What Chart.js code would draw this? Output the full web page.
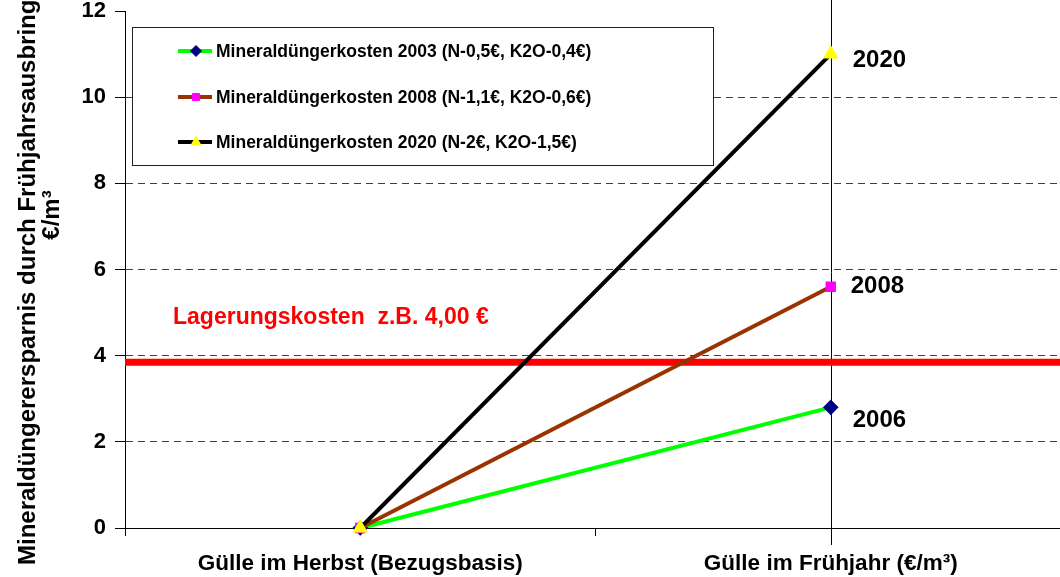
<!DOCTYPE html>
<html>
<head>
<meta charset="utf-8">
<script src="https://cdn.jsdelivr.net/npm/chart.js@4/dist/chart.umd.min.js"></script>
<style>
    html, body { margin: 0; padding: 0; background: #fff; overflow: hidden; }
</style>
</head>
<body>
<canvas id="myChart" width="1075" height="577"></canvas>
<script>
const categories = ['Gülle im Herbst (Bezugsbasis)', 'Gülle im Frühjahr (€/m³)'];
const seriesNames = [
    'Mineraldüngerkosten 2003 (N-0,5€, K2O-0,4€)',
    'Mineraldüngerkosten 2008 (N-1,1€, K2O-0,6€)',
    'Mineraldüngerkosten 2020 (N-2€, K2O-1,5€)'
];
const values2003 = [0, 2.8];
const values2008 = [0, 5.6];
const values2020 = [0, 11.0];
const endLabels = ['2006', '2008', '2020'];
const storageCost = 3.85;
const storageLabel = 'Lagerungskosten  z.B. 4,00 €';
const yTitle = ['Mineraldüngerersparnis durch Frühjahrsausbringung', '€/m³'];

const FONT = "'Liberation Sans', Arial, sans-serif";

// offsets of the end labels next to the last point of each series
const labelOffsets = [[22, 13], [20, 0], [22, 6]];

const decor = {
    id: 'decor',
    beforeDatasetsDraw(chart) {
        const {ctx, chartArea, scales} = chart;
        const x = Math.round(scales.x.getPixelForValue(1)) + 0.5;
        ctx.save();
        // vertical line at spring category
        ctx.strokeStyle = '#000';
        ctx.lineWidth = 1;
        ctx.beginPath();
        ctx.moveTo(x, 0);
        ctx.lineTo(x, chartArea.bottom + 17);
        ctx.stroke();
        // storage cost line
        const y = scales.y.getPixelForValue(storageCost);
        ctx.strokeStyle = '#ff0000';
        ctx.lineWidth = 7;
        ctx.beginPath();
        ctx.moveTo(chartArea.left, y);
        ctx.lineTo(chartArea.right, y);
        ctx.stroke();
        ctx.fillStyle = '#ff0000';
        ctx.font = 'bold 23px ' + FONT;
        ctx.textBaseline = 'middle';
        ctx.fillText(storageLabel, chartArea.left + 48, y - 44);
        ctx.restore();
    },
    afterDatasetsDraw(chart) {
        const {ctx} = chart;
        ctx.save();
        // end labels
        ctx.fillStyle = '#000';
        ctx.font = 'bold 24px ' + FONT;
        ctx.textBaseline = 'middle';
        chart.data.datasets.forEach((ds, i) => {
            const pt = chart.getDatasetMeta(i).data[1];
            ctx.fillText(endLabels[i], pt.x + labelOffsets[i][0], pt.y + labelOffsets[i][1]);
        });

        // legend box
        ctx.fillStyle = '#fff';
        ctx.fillRect(132, 27, 581, 138);
        ctx.strokeStyle = '#202020';
        ctx.lineWidth = 1;
        ctx.strokeRect(132.5, 27.5, 581, 138);
        const rows = [51, 97, 142];
        chart.data.datasets.forEach((ds, i) => {
            const y = rows[i];
            ctx.strokeStyle = ds.borderColor;
            ctx.lineWidth = 4;
            ctx.beginPath();
            ctx.moveTo(178, y);
            ctx.lineTo(212, y);
            ctx.stroke();
            ctx.fillStyle = ds.pointBackgroundColor;
            ctx.strokeStyle = ds.pointBorderColor;
            ctx.lineWidth = 1;
            Chart.helpers.drawPoint(ctx, {pointStyle: ds.pointStyle, radius: ds.pointRadius + 0.5, rotation: 0, borderWidth: 1}, 196, y);
            ctx.fillStyle = '#000';
            ctx.font = 'bold 17.5px ' + FONT;
            ctx.textBaseline = 'middle';
            ctx.fillText(ds.label, 216, y + 1);
        });

        // y axis title
        ctx.fillStyle = '#000';
        ctx.font = 'bold 24px ' + FONT;
        ctx.translate(28, 565);
        ctx.rotate(-Math.PI / 2);
        ctx.textAlign = 'left';
        ctx.textBaseline = 'middle';
        ctx.fillText(yTitle[0], 0, 0);
        ctx.textAlign = 'center';
        ctx.fillText(yTitle[1], 565 - 215, 24);
        ctx.restore();
    }
};

const ctx = document.getElementById('myChart');

new Chart(ctx, {
    type: 'line',
    data: {
        labels: categories,
        datasets: [
            {
                label: seriesNames[0],
                data: values2003,
                borderColor: '#00ff00',
                borderWidth: 4,
                pointStyle: 'rectRot',
                pointRadius: 5,
                pointBackgroundColor: '#000080',
                pointBorderColor: '#000080',
                order: 3,
                clip: false
            },
            {
                label: seriesNames[1],
                data: values2008,
                borderColor: '#993300',
                borderWidth: 4,
                pointStyle: 'rect',
                pointRadius: 4.5,
                pointBackgroundColor: '#ff00ff',
                pointBorderColor: '#ff00ff',
                order: 2,
                clip: false
            },
            {
                label: seriesNames[2],
                data: values2020,
                borderColor: '#000000',
                borderWidth: 4,
                pointStyle: 'triangle',
                pointRadius: 5,
                pointBackgroundColor: '#ffff00',
                pointBorderColor: '#ffff00',
                order: 1,
                clip: false
            }
        ]
    },
    options: {
        responsive: false,
        animation: false,
        layout: {
            padding: {top: 11, right: 0, left: 0, bottom: 0}
        },
        plugins: {
            legend: {display: false},
            tooltip: {enabled: false}
        },
        elements: {
            line: {tension: 0}
        },
        scales: {
            x: {
                type: 'category',
                offset: true,
                grid: {
                    offset: true,
                    drawOnChartArea: false,
                    drawTicks: true,
                    tickLength: 8,
                    tickColor: '#000'
                },
                border: {color: '#000', width: 1},
                ticks: {
                    color: '#000',
                    padding: 14,
                    maxRotation: 0,
                    font: {family: FONT, size: 22.5, weight: 'bold'}
                },
                afterFit: (scale) => { scale.height = 49; }
            },
            y: {
                min: 0,
                max: 12,
                grid: {
                    color: (c) => (c.tick && (c.tick.value === 0 || c.tick.value === 12)) ? 'rgba(0,0,0,0)' : '#404040',
                    tickColor: '#000',
                    tickLength: 10,
                    lineWidth: 1
                },
                border: {color: '#000', width: 1, dash: [7, 5]},
                ticks: {
                    stepSize: 2,
                    color: '#000',
                    padding: 9,
                    font: {family: FONT, size: 22, weight: 'bold', lineHeight: 0.5}
                },
                afterFit: (scale) => {
                    scale.width = 125;
                    scale.paddingTop = 0;
                    scale.paddingBottom = 0;
                }
            }
        }
    },
    plugins: [decor]
});
</script>
</body>
</html>
